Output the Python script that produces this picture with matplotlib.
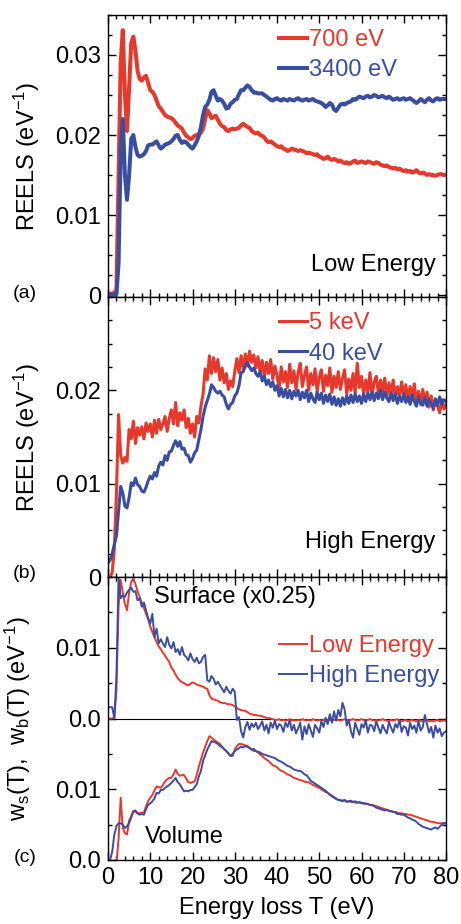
import numpy as np
import matplotlib.pyplot as plt
from matplotlib.ticker import MultipleLocator, FixedLocator, FixedFormatter

plt.rcParams['font.family'] = ['Liberation Sans', 'DejaVu Sans']
plt.rcParams['mathtext.default'] = 'regular'

RED = '#e8382b'
BLUE = '#3a4ea1'

# energy loss grid (eV)
energy = np.arange(161) * 0.5

# all spectra below in units of 1e-5 eV^-1, one row = 5 eV
reels_700 = [
    10, 15, 20, 30, 60, 1500, 2900, 3310, 2500, 2050,
    2600, 3150, 3230, 3050, 2800, 2700, 2680, 2720, 2740, 2650,
    2560, 2540, 2500, 2430, 2360, 2330, 2290, 2250, 2230, 2220,
    2210, 2190, 2150, 2120, 2100, 2080, 2030, 1990, 1970, 1950,
    1960, 1990, 2000, 2010, 2030, 2080, 2200, 2310, 2270, 2210,
    2230, 2240, 2190, 2140, 2110, 2100, 2060, 2050, 2070, 2080,
    2070, 2080, 2090, 2120, 2140, 2120, 2100, 2090, 2050, 2030,
    2020, 2030, 2000, 1990, 1970, 1930, 1910, 1920, 1900, 1880,
    1860, 1850, 1860, 1830, 1820, 1800, 1810, 1830, 1820, 1810,
    1800, 1810, 1800, 1790, 1770, 1780, 1770, 1760, 1750, 1760,
    1730, 1720, 1700, 1710, 1730, 1700, 1690, 1700, 1690, 1670,
    1680, 1660, 1650, 1660, 1640, 1650, 1670, 1680, 1650, 1660,
    1670, 1660, 1650, 1670, 1660, 1650, 1640, 1660, 1650, 1630,
    1620, 1610, 1620, 1600, 1590, 1580, 1590, 1570, 1580, 1560,
    1550, 1560, 1540, 1550, 1530, 1540, 1560, 1530, 1520, 1530,
    1520, 1500, 1510, 1500, 1500, 1490, 1500, 1510, 1510, 1500,
    1500]

reels_3400 = [
    0, 0, 0, 5, 10, 400, 1800, 2200, 1500, 1190,
    1500, 1950, 2000, 1850, 1750, 1730, 1740, 1760, 1800, 1870,
    1880, 1880, 1900, 1920, 1870, 1830, 1850, 1880, 1890, 1900,
    1920, 1950, 1990, 2000, 1940, 1900, 1920, 1910, 1880, 1850,
    1830, 1870, 1920, 1990, 2100, 2250, 2350, 2380, 2440, 2540,
    2560, 2490, 2430, 2450, 2430, 2390, 2330, 2340, 2390, 2410,
    2440, 2450, 2510, 2560, 2560, 2590, 2620, 2600, 2560, 2530,
    2530, 2520, 2520, 2520, 2500, 2480, 2460, 2440, 2430, 2450,
    2460, 2440, 2430, 2450, 2440, 2430, 2450, 2440, 2430, 2450,
    2460, 2440, 2430, 2440, 2450, 2430, 2440, 2450, 2430, 2420,
    2410, 2400, 2380, 2350, 2370, 2400, 2380, 2320, 2300, 2340,
    2380, 2390, 2380, 2400, 2410, 2420, 2450, 2440, 2460, 2480,
    2470, 2460, 2480, 2490, 2470, 2480, 2500, 2490, 2470, 2480,
    2490, 2470, 2460, 2480, 2460, 2440, 2450, 2460, 2440, 2450,
    2460, 2440, 2450, 2460, 2440, 2420, 2400, 2420, 2450, 2430,
    2410, 2440, 2460, 2430, 2420, 2450, 2460, 2440, 2450, 2450,
    2450]

reels_5k = [
    0, 0, 50, 300, 900, 1740, 1300, 1220, 1280, 1240,
    1580, 1480, 1670, 1430, 1600, 1520, 1610, 1480, 1650, 1560,
    1640, 1500, 1680, 1540, 1690, 1580, 1640, 1720, 1560, 1700,
    1790, 1640, 1870, 1620, 1760, 1680, 1790, 1600, 1700, 1540,
    1640, 1500, 1720, 1650, 1830, 1960, 2230, 2110, 2370, 2180,
    2350, 2200, 2330, 2110, 2240, 2080, 2180, 2010, 2100, 2040,
    2200, 2340, 2190, 2370, 2230, 2390, 2260, 2420, 2300, 2380,
    2240, 2360, 2200, 2320, 2150, 2300, 2180, 2330, 2120, 2260,
    2160, 2020, 2250, 2090, 2200, 2030, 2280, 2080, 2210, 2010,
    2190, 2290, 2040, 2160, 2250, 2000, 2180, 2060, 2230, 1990,
    2140, 2220, 1990, 2160, 2050, 2240, 1980, 2150, 2030, 2200,
    2010, 2130, 2220, 1960, 2120, 2000, 2180, 1970, 2290, 2030,
    2150, 1950, 2110, 1980, 2190, 1940, 2090, 2150, 1960, 2110,
    1990, 2130, 1930, 2080, 1960, 2110, 1910, 2040, 1950, 2090,
    1930, 2060, 1890, 2040, 1920, 2070, 1870, 1990, 1850, 2010,
    1870, 1980, 1820, 1940, 1790, 1900, 1830, 1760, 1900, 1800,
    1850]

reels_40k = [
    150, 180, 250, 350, 440, 700, 970, 900, 760, 740,
    850, 1010, 980, 1060, 990, 970, 920, 910, 960, 1030,
    1080, 1050, 1120, 1080, 1190, 1230, 1200, 1300, 1250, 1340,
    1350, 1410, 1460, 1400, 1450, 1370, 1380, 1310, 1300, 1230,
    1270, 1330, 1360, 1470, 1580, 1720, 1820, 1890, 1960, 2060,
    2030, 1990, 1970, 1990, 1950, 1930, 1850, 1800, 1850, 1870,
    1940, 1970, 2050, 2190, 2200, 2260, 2300, 2250, 2210, 2240,
    2180, 2150, 2200, 2100, 2150, 2060, 2110, 2040, 2090, 2000,
    2050, 1940, 2020, 1930, 2010, 1920, 2000, 1910, 1990, 1940,
    2000, 1900, 1980, 1920, 2000, 1880, 1970, 1910, 1870, 1980,
    1900, 1970, 1860, 1950, 1880, 1960, 1850, 1930, 1840, 1910,
    1830, 1920, 1850, 1940, 1860, 1950, 1870, 1960, 1880, 1940,
    1860, 1960, 1880, 1970, 1900, 1980, 1890, 1970, 1910, 2000,
    1900, 1980, 1920, 1880, 1970, 1890, 1960, 1860, 1940, 1880,
    1960, 1870, 1930, 1850, 1950, 1880, 1830, 1930, 1860, 1840,
    1920, 1830, 1900, 1850, 1810, 1910, 1840, 1930, 1850, 1900,
    1880]

# surface term (already x0.25) and volume term
ws_low = [
    0, 0, 0, 20, 400, 1580, 1960, 1780, 1620, 1530,
    1780, 1930, 1980, 1900, 1800, 1720, 1630, 1560, 1480, 1400,
    1300, 1220, 1150, 1080, 1020, 980, 930, 890, 840, 800,
    720, 680, 620, 570, 540, 510, 500, 480, 470, 490,
    510, 500, 480, 470, 460, 450, 430, 420, 330, 280,
    270, 260, 250, 230, 220, 220, 210, 200, 200, 190,
    170, 150, 130, 120, 110, 110, 90, 70, 60, 50,
    50, 40, 40, 30, 20, 10, 10, 0, -10, -20,
    -20, -10, -30, -20, -30, -20, -10, -30, -20, -30,
    -20, -30, -10, -20, -30, -20, -30, -10, -20, -30,
    -20, -30, -20, -10, -30, -20, -30, -20, -10, -20,
    -30, -20, -10, -20, -30, -20, -10, -20, -30, -20,
    -10, -20, -30, -20, -10, -20, -30, -20, -30, -20,
    -10, -20, -30, -40, -20, -30, -20, -10, -30, -40,
    -30, -20, -40, -30, -20, -30, -40, -20, -30, -40,
    -30, -20, -40, -30, -40, -30, -20, -40, -30, -30,
    -30]

ws_high = [
    160, 160, 160, 0, 600, 2000, 1700, 1740, 1720, 1780,
    1820, 1850, 1790, 1800, 1670, 1700, 1580, 1640, 1530, 1420,
    1340, 1480, 1150, 1270, 1060, 1120, 1060, 1010, 1150, 1040,
    990, 1080, 940, 980, 900, 1010, 900, 870, 820, 920,
    840, 800, 860, 780, 800, 870, 900, 540, 520, 600,
    560, 480, 520, 470, 420, 370, 450, 390, 350, 420,
    380, -20, 20, -180, -270, -120, -50, -160, -70, -120,
    -60, -150, -100, -40, -170, -90, -210, -60, -130, -30,
    -150, -80, -100, -190, -60, -120, -20, -170, -90, -210,
    -140, -60, -300, -110, -220, -80, -170, -260, -90, -140,
    -200, -40, -120, 10, -80, 60, -60, 100, -30, 120,
    30, 220, 130, -100, -20, -180, -270, -60, -150, -230,
    -80, -130, -20, -200, -90, -100, -180, -40, -130, -210,
    -90, -160, -210, -50, -130, -200, -80, -130, -20, -190,
    -110, -130, -240, -60, -150, -100, -200, -30, -170, -120,
    50, -80, -200, -120, -270, -100, -200, -140, -250, -200,
    -180]

wb_low = [
    -300, -300, -250, -150, -50, 300, 880, 450, 380, 360,
    560, 620, 690, 680, 660, 660, 670, 670, 760, 830,
    880, 920, 980, 1040, 1030, 1020, 1060, 1110, 1140, 1160,
    1160, 1210, 1280, 1220, 1190, 1200, 1200, 1150, 1100, 1090,
    1100, 1110, 1200, 1320, 1420, 1520, 1600, 1680, 1750, 1730,
    1700, 1680, 1660, 1640, 1600, 1560, 1540, 1500, 1470, 1470,
    1560, 1610, 1640, 1640, 1630, 1620, 1610, 1590, 1560, 1540,
    1540, 1520, 1490, 1470, 1440, 1420, 1400, 1370, 1340, 1330,
    1310, 1280, 1260, 1250, 1230, 1210, 1200, 1180, 1160, 1150,
    1140, 1130, 1120, 1110, 1100, 1100, 1080, 1060, 1050, 1030,
    1020, 1000, 980, 960, 950, 930, 910, 890, 870, 850,
    850, 840, 840, 830, 830, 820, 820, 810, 810, 810,
    800, 800, 790, 790, 780, 770, 770, 760, 750, 740,
    730, 720, 710, 700, 690, 680, 680, 670, 660, 660,
    650, 650, 640, 640, 630, 620, 610, 600, 590, 580,
    570, 560, 550, 540, 540, 530, 520, 520, 520, 520,
    520]

wb_high = [
    -50, 0, 120, 360, 480, 520, 520, 500, 450, 480,
    520, 600, 690, 700, 660, 640, 650, 640, 720, 780,
    800, 830, 870, 950, 940, 990, 990, 1020, 1040, 1060,
    1090, 1120, 1160, 1100, 1070, 1020, 970, 980, 970, 990,
    990, 1030, 1070, 1180, 1260, 1400, 1480, 1560, 1620, 1680,
    1670, 1660, 1640, 1610, 1600, 1570, 1540, 1510, 1470, 1500,
    1540, 1560, 1580, 1600, 1590, 1610, 1600, 1580, 1560, 1570,
    1540, 1530, 1520, 1500, 1490, 1480, 1470, 1460, 1450, 1440,
    1420, 1400, 1390, 1370, 1350, 1330, 1320, 1300, 1280, 1270,
    1260, 1260, 1240, 1210, 1200, 1160, 1120, 1100, 1080, 1060,
    1040, 1020, 1000, 980, 950, 920, 900, 880, 860, 850,
    840, 830, 850, 820, 830, 840, 820, 830, 810, 820,
    810, 800, 800, 790, 780, 780, 760, 740, 730, 720,
    710, 700, 710, 690, 690, 680, 670, 650, 650, 640,
    640, 620, 600, 590, 570, 560, 540, 510, 490, 470,
    460, 450, 440, 430, 450, 460, 440, 470, 500, 520,
    520]

SCALE = 1e-5
SURF_OFFSET = 0.02

fig = plt.figure(figsize=(4.61, 9.24), dpi=100)
W, H = 461.0, 924.0


def panel(top, bottom):
    return fig.add_axes([108 / W, 1 - bottom / H, 338 / W, (bottom - top) / H])


def style(ax, yticks, ylabels, yminor, xlabels=False):
    ax.set_xlim(0, 80)
    ax.xaxis.set_major_locator(MultipleLocator(10))
    ax.xaxis.set_minor_locator(MultipleLocator(2))
    ax.yaxis.set_major_locator(FixedLocator(yticks))
    ax.yaxis.set_major_formatter(FixedFormatter(ylabels))
    ax.yaxis.set_minor_locator(MultipleLocator(yminor))
    ax.tick_params(which='both', direction='in', top=True, right=True,
                   labelsize=17, width=1, pad=5)
    ax.tick_params(which='major', length=6)
    ax.tick_params(which='minor', length=3)
    if not xlabels:
        ax.tick_params(axis='x', labelbottom=False)
    for s in ax.spines.values():
        s.set_linewidth(1)


def arr(v):
    v = np.asarray(v, dtype=float)
    assert len(v) == len(energy)
    return v * SCALE


ax1 = panel(15, 297)
ax2 = panel(297, 577)
ax3 = panel(577, 860)

# (a) low energy
ax1.plot(energy, arr(reels_700), color=RED, lw=2.9, label='700 eV')
ax1.plot(energy, arr(reels_3400), color=BLUE, lw=2.9, label='3400 eV')
ax1.set_ylim(-0.00025, 0.035)
style(ax1, [0, 0.01, 0.02, 0.03], ['0', '0.01', '0.02', '0.03'], 0.0025)
ax1.set_ylabel('REELS (eV$^{-1}$)', fontsize=17)
ax1.yaxis.set_label_coords(-0.195, 0.5)
ax1.text(0.97, 0.115, 'Low Energy', transform=ax1.transAxes, fontsize=17,
         ha='right', va='center')

# (b) high energy
ax2.plot(energy, arr(reels_5k), color=RED, lw=2.2, label='5 keV')
ax2.plot(energy, arr(reels_40k), color=BLUE, lw=2.2, label='40 keV')
ax2.set_ylim(0, 0.03)
style(ax2, [0, 0.01, 0.02], ['0', '0.01', '0.02'], 0.0025)
ax2.set_ylabel('REELS (eV$^{-1}$)', fontsize=17)
ax2.yaxis.set_label_coords(-0.195, 0.5)
ax2.text(0.97, 0.125, 'High Energy', transform=ax2.transAxes, fontsize=17,
         ha='right', va='center')

# (c) surface / volume decomposition
ax3.axhline(SURF_OFFSET, color='k', lw=0.8)
ax3.plot(energy, SURF_OFFSET + arr(ws_low), color=RED, lw=1.4, label='Low Energy')
ax3.plot(energy, SURF_OFFSET + arr(ws_high), color=BLUE, lw=1.4, label='High Energy')
ax3.plot(energy, arr(wb_low), color=RED, lw=1.4)
ax3.plot(energy, arr(wb_high), color=BLUE, lw=1.4)
ax3.set_ylim(0, 0.04)
style(ax3, [0, 0.01, 0.02, 0.03], ['0.0', '0.01', '0.0', '0.01'], 0.005,
      xlabels=True)
ax3.set_ylabel('w$_s$(T),  w$_b$(T) (eV$^{-1}$)', fontsize=17)
ax3.yaxis.set_label_coords(-0.222, 0.5)
ax3.set_xlabel('Energy loss T (eV)', fontsize=17, labelpad=6)
ax3.text(0.135, 0.93, 'Surface (x0.25)', transform=ax3.transAxes, fontsize=17,
         ha='left', va='center')
ax3.text(0.11, 0.08, 'Volume', transform=ax3.transAxes, fontsize=17,
         ha='left', va='center')

for ax, top in ((ax1, 0.95), (ax2, 0.945), (ax3, 0.795)):
    ax.legend(loc='upper left', bbox_to_anchor=(0.505, top), frameon=False,
              fontsize=17, handlelength=1.2, handletextpad=0.1,
              labelspacing=0.35, borderpad=0, borderaxespad=0,
              labelcolor='linecolor')

for y, lab in ((293, '(a)'), (573, '(b)'), (857, '(c)')):
    fig.text(25 / W, 1 - y / H, lab, fontsize=14, ha='center', va='center')

fig.savefig('out.png', dpi=100)
